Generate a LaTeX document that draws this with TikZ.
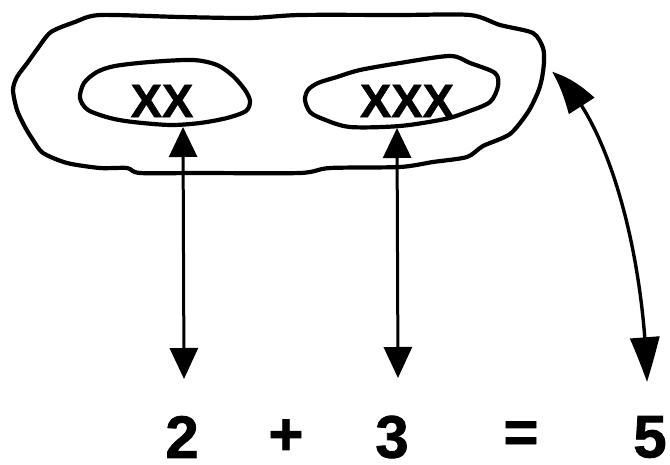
\documentclass[tikz,border=0pt]{standalone}
\usepackage{fontspec}
\setmainfont{Liberation Sans}
\newfontfamily\heavy{Liberation Sans}[UprightFont={* Bold},FakeBold=1.3]
\usetikzlibrary{arrows.meta,bending}
\tikzset{
  outline/.style={line width=4.2pt,line join=round},
  lbl/.style={inner sep=0pt,font=\fontsize{47}{50}\heavy},
  num/.style={inner sep=0pt,font=\fontsize{60}{62}\heavy},
  dbl/.style={line width=3pt,{Triangle[width=28pt,length=30pt]}-{Triangle[width=28pt,length=31pt]}},
  curvdbl/.style={line width=3.4pt,{Triangle[width=30pt,length=40pt,bend]}-{Triangle[width=29pt,length=45pt,bend]}}
}
\begin{document}
\begin{tikzpicture}[x=1pt,y=-1pt]
\useasboundingbox (0,0) rectangle (670,465);
% outer blob
\draw[outline] plot[smooth cycle,tension=0.45] coordinates {
 (100,15) (180,17) (250,18) (300,15) (400,15) (470,15) (500,25) (533,33)
 (543,48) (544,62) (542,78) (538,92) (528,112) (510,134) (483,146)
 (467,157) (433,162) (400,167) (330,168) (300,173) (200,173) (140,173)
 (127,168) (100,168) (67,163) (43,153) (33,140) (25,127) (17,110)
 (13,90) (17,77) (28,62) (38,48) (51,32) (75,22)};
% left inner ellipse
\draw[outline] plot[smooth cycle,tension=0.5] coordinates {
 (80,98) (84,83) (97,72) (115,66) (150,62) (193,60) (217,65) (233,76)
 (245,90) (250,101) (246,111) (227,118) (200,123) (170,125) (133,122)
 (110,118) (88,110)};
% right inner ellipse
\draw[outline] plot[smooth cycle,tension=0.5] coordinates {
 (305,100) (308,90) (318,83) (337,77) (360,70) (400,63) (450,56)
 (470,63) (495,73) (498,86) (490,102) (467,112) (445,119) (400,126)
 (350,127) (323,119) (310,112)};
% labels
\node[lbl] (xx) at (162,101) {XX};
\node[lbl] (xxx) at (407,101) {XXX};
\node[num] (n2) at (182,437) {2};
\node[num] (plus) at (286,437) {+};
\node[num] (n3) at (392,437) {3};
\node[num] (eq) at (521,437) {=};
\node[num] (n5) at (650,437) {5};
% arrow end points
\coordinate (a1) at (183,127);
\coordinate (b1) at (184,379);
\coordinate (a2) at (397,128);
\coordinate (b2) at (398,378);
\coordinate (a3) at (552,72);
\coordinate (b3) at (647,382);
\draw[dbl] (a1) -- (b1);
\draw[dbl] (a2) -- (b2);
\draw[curvdbl] (a3) .. controls (602,108) and (644,240) .. (b3);
\end{tikzpicture}
\end{document}
